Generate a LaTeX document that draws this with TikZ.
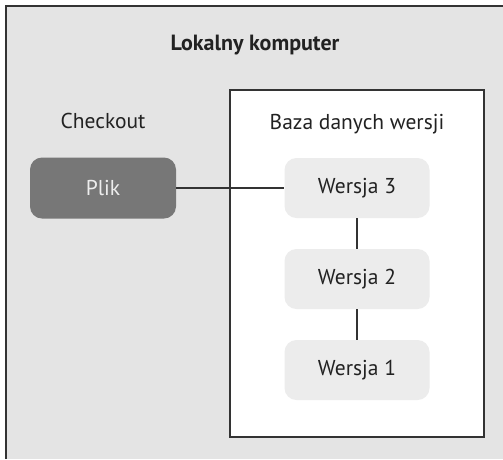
\documentclass[tikz,border=0pt]{standalone}
\usepackage{fontspec}
\setmainfont{PT Sans}
\usepackage{tikz}

\definecolor{pagegray}{HTML}{E4E4E4}
\definecolor{filegray}{HTML}{777777}
\definecolor{versiongray}{HTML}{ECECEC}
\definecolor{linegray}{HTML}{333333}
\definecolor{textgray}{HTML}{222222}

\begin{document}
\begin{tikzpicture}[x=1pt,y=-1pt,
    version/.style={fill=versiongray, rounded corners=12pt, minimum width=145pt, minimum height=60pt, text=textgray, font=\fontsize{21.5}{24}\selectfont},
    plikbox/.style={fill=filegray, rounded corners=12pt, minimum width=146pt, minimum height=61pt, text=white!93!black, font=\fontsize{21.5}{24}\selectfont},
    label/.style={font=\fontsize{21.5}{24}\selectfont, text=textgray}]
    \useasboundingbox (0,0) rectangle (503,459);

    % Outer box (Lokalny komputer)
    \fill[pagegray] (6,6) rectangle (503,459);
    \draw[linegray, line width=1.6pt] (6,459) -- (6,6) -- (503,6);
    \node[label, font=\fontsize{22}{25}\selectfont\bfseries] (title) at (255,45) {Lokalny komputer};

    % Version database
    \draw[linegray, fill=white, line width=1.3pt] (230,90) rectangle (484,437);
    \node[label] (checkout) at (103,121) {Checkout};
    \node[label] (db) at (357,124) {Baza danych wersji};

    % Nodes
    \node[plikbox] (plik) at (103,188) {Plik};
    \node[version] (v3) at (357,188) {Wersja 3};
    \node[version] (v2) at (357,279) {Wersja 2};
    \node[version] (v1) at (357,370) {Wersja 1};

    % Connectors
    \draw[linegray, line width=1.3pt] (plik) -- (v3);
    \draw[linegray, line width=1.3pt] (v3) -- (v2);
    \draw[linegray, line width=1.3pt] (v2) -- (v1);
\end{tikzpicture}
\end{document}
